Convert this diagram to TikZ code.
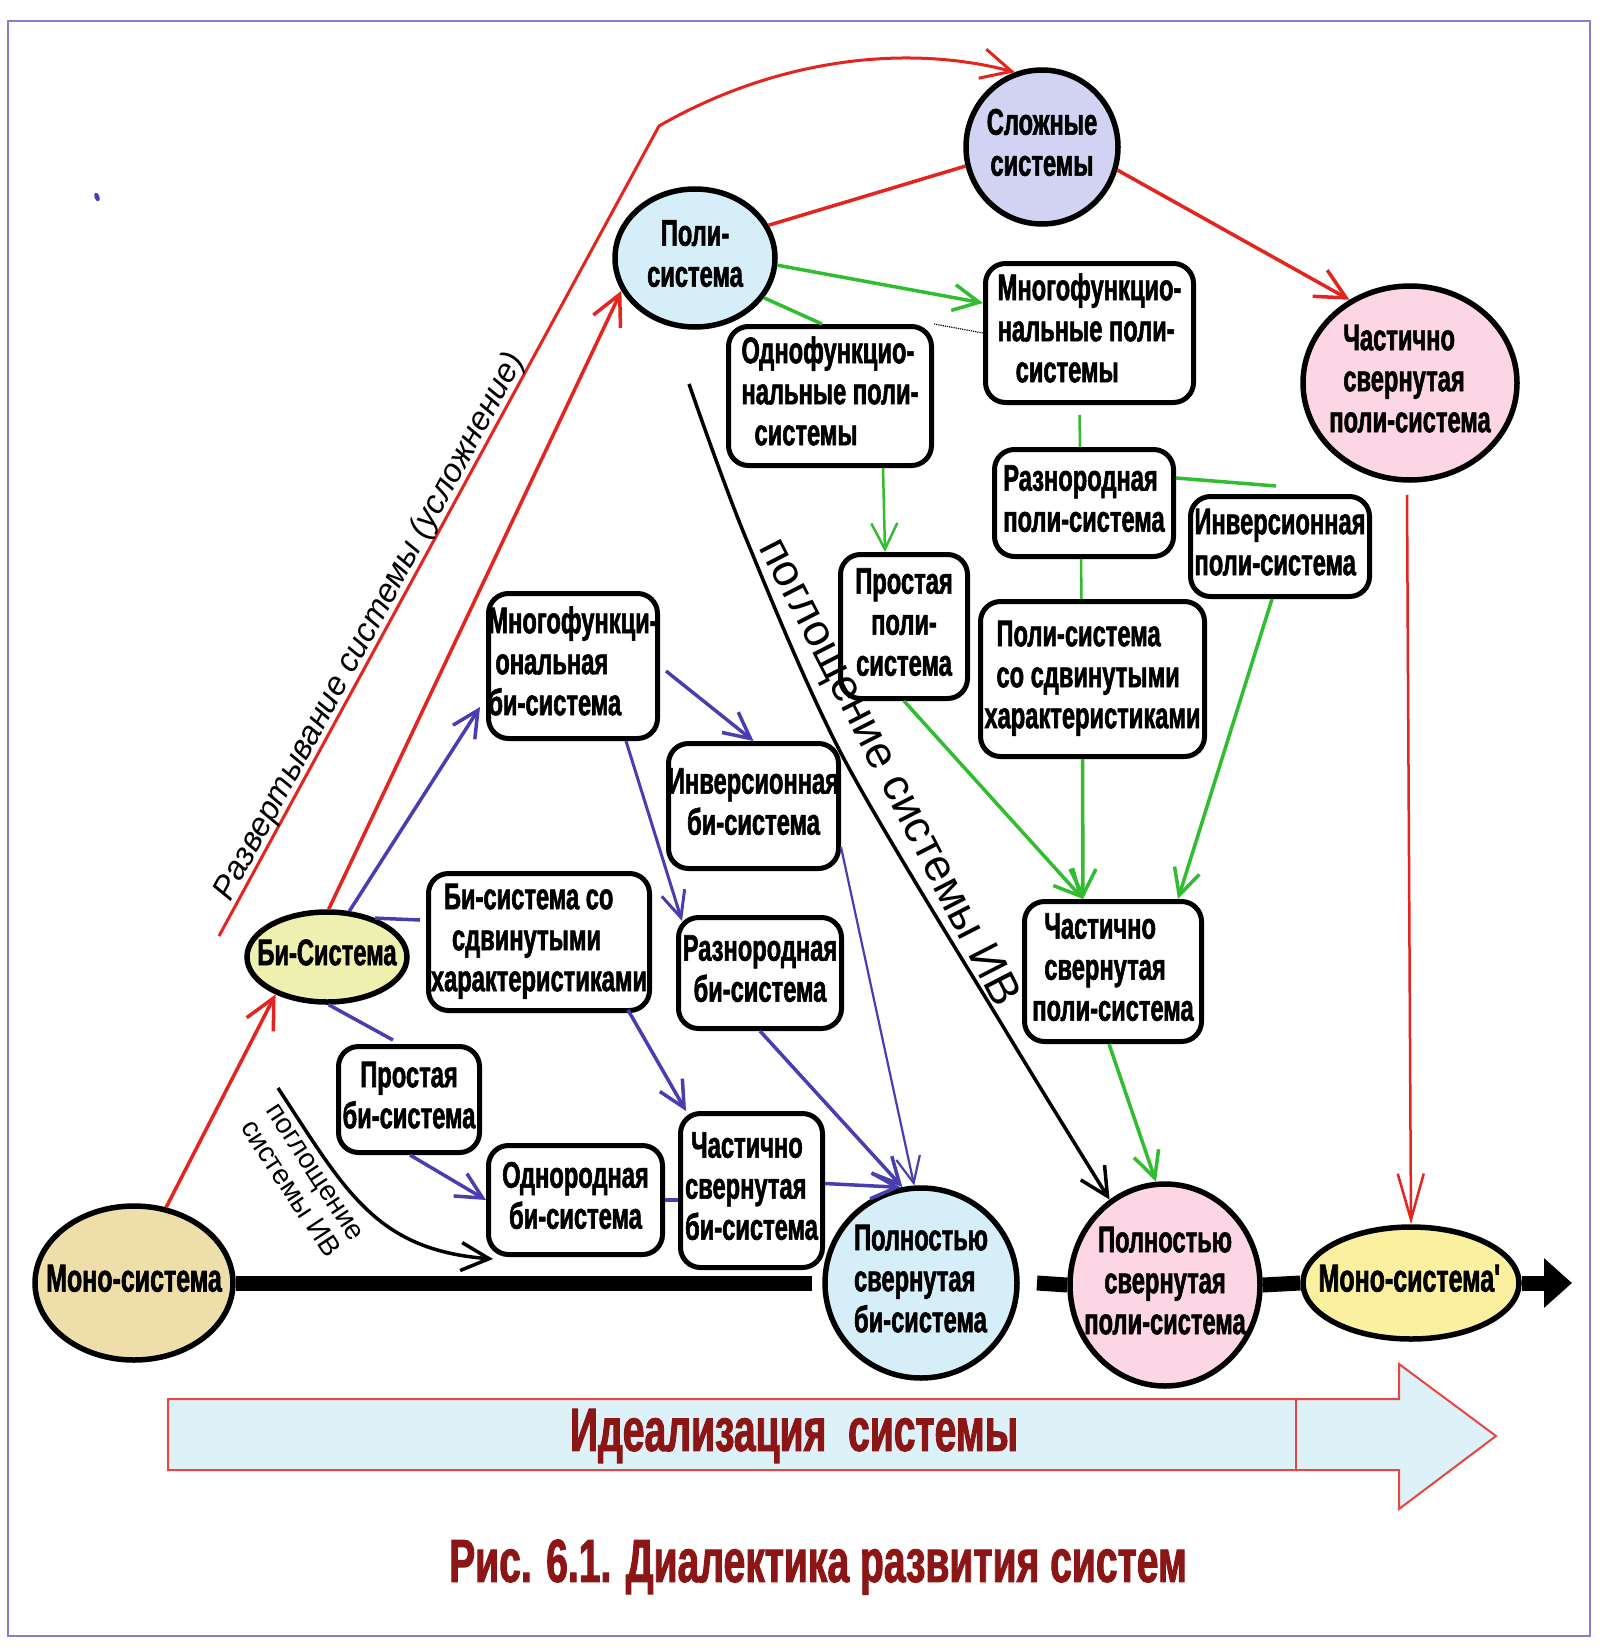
\documentclass[tikz,border=0pt]{standalone}
\usepackage{fontspec}
\newfontfamily\nb{Liberation Sans}[FakeStretch=0.64, BoldFeatures={FakeBold=1.5}]
\newfontfamily\nr{Liberation Sans}
\usetikzlibrary{arrows.meta,calc,shapes.geometric}
\definecolor{rd}{RGB}{228,36,30}
\definecolor{gn}{RGB}{48,190,48}
\definecolor{bl}{RGB}{72,62,178}
\definecolor{frm}{RGB}{130,130,200}
\definecolor{cSl}{RGB}{210,210,242}
\definecolor{cLb}{RGB}{214,238,248}
\definecolor{cPk}{RGB}{252,214,228}
\definecolor{cBi}{RGB}{238,240,176}
\definecolor{cMo}{RGB}{238,222,170}
\definecolor{cMp}{RGB}{250,240,160}
\definecolor{cAr}{RGB}{220,242,248}
\definecolor{dred}{RGB}{140,22,22}
\newcommand\mytxt[2]{\makebox[0pt]{\begin{tabular}{@{}#1@{}}#2\end{tabular}}}
\begin{document}
\begin{tikzpicture}[x=1pt,y=-1pt,
 boxn/.style={draw, fill=white, line width=5pt, rounded corners=20pt, inner sep=0pt, font=\nb\bfseries\fontsize{37}{41}\selectfont},
 elln/.style={draw, ellipse, line width=5.5pt, inner sep=0pt, font=\nb\bfseries\fontsize{37}{41}\selectfont},
 bigf/.style={font=\nb\bfseries\fontsize{39}{43}\selectfont},
 rarr/.style={draw=rd, line width=3.5pt, -{Straight Barb[length=30pt,width=30pt]}},
 rarrt/.style={draw=rd, line width=2.5pt, -{Straight Barb[length=46pt,width=26pt]}},
 rln/.style={draw=rd, line width=3.5pt},
 garr/.style={draw=gn, line width=3.5pt, -{Straight Barb[length=26pt,width=26pt]}},
 gln/.style={draw=gn, line width=3.5pt},
 barr/.style={draw=bl, line width=3.5pt, -{Straight Barb[length=26pt,width=26pt]}},
 barrt/.style={draw=bl, line width=2.2pt, -{Straight Barb[length=26pt,width=24pt]}},
 bln/.style={draw=bl, line width=3.5pt},
 karr/.style={draw=black, line width=3.5pt, -{Straight Barb[length=28pt,width=28pt]}},
 thickln/.style={draw=black, line width=15pt},
]
\useasboundingbox (0,0) rectangle (1600,1651);
\fill[white] (0,0) rectangle (1600,1651);

% ---------- ellipses ----------
\node[elln, fill=cSl, minimum width=152pt, minimum height=154pt] (sl) at (1042,147) {\mytxt{c}{Сложные\\системы}};
\node[elln, fill=cLb, minimum width=160pt, minimum height=138pt] (poli) at (695,258) {\mytxt{c}{Поли-\\система}};
\node[elln, fill=cPk, minimum width=214pt, minimum height=194pt] (chtop) at (1410,383) {\mytxt{l}{\hspace*{14pt}Частично\\\hspace*{14pt}свернутая\\поли-система}};
\node[elln, fill=cBi, minimum width=160pt, minimum height=90pt] (bi) at (327,957) {\mytxt{c}{Би-Система}};
\node[elln, bigf, fill=cMo, minimum width=198pt, minimum height=154pt] (mono) at (134,1283) {\mytxt{c}{Моно-система}};
\node[elln, fill=cLb, minimum width=192pt, minimum height=190pt] (pb) at (921,1283) {\mytxt{l}{Полностью\\свернутая\\би-система}};
\node[elln, fill=cPk, minimum width=190pt, minimum height=202pt] (pp) at (1165,1285) {\mytxt{c}{Полностью\\свернутая\\поли-система}};
\node[elln, bigf, fill=cMp, minimum width=216pt, minimum height=112pt] (mp) at (1411,1283) {\mytxt{c}{Моно-система\textquotesingle}};

% ---------- boxes ----------
\node[boxn, minimum width=208pt, minimum height=139pt] (mnp) at (1089.5,333) {\mytxt{l}{Многофункцио-\\нальные поли-\\\hspace*{18pt}системы}};
\node[boxn, minimum width=203pt, minimum height=139pt] (odno) at (830,396) {\mytxt{l}{Однофункцио-\\нальные поли-\\\hspace*{13pt}системы}};
\node[boxn, minimum width=179pt, minimum height=107pt] (rzp) at (1084,503) {\mytxt{l}{Разнородная\\поли-система}};
\node[boxn, minimum width=179pt, minimum height=100pt] (invp) at (1280,546.5) {\mytxt{l}{Инверсионная\\поли-система}};
\node[boxn, minimum width=127pt, minimum height=144pt] (prp) at (904,626.5) {\mytxt{c}{Простая\\поли-\\система}};
\node[boxn, minimum width=224pt, minimum height=155pt] (pss) at (1092.5,679) {\mytxt{l}{\hspace*{12pt}Поли-система\\\hspace*{12pt}со сдвинутыми\\характеристиками}};
\node[boxn, minimum width=177pt, minimum height=140pt] (chp) at (1113,971.5) {\mytxt{l}{\hspace*{12pt}Частично\\\hspace*{12pt}свернутая\\поли-система}};
\node[boxn, minimum width=169pt, minimum height=145pt] (mbs) at (573,666) {\mytxt{l}{Многофункци-\\\hspace*{7pt}ональная\\би-система}};
\node[boxn, minimum width=170pt, minimum height=125pt] (ibs) at (753.5,806) {\mytxt{c}{Инверсионная\\би-система}};
\node[boxn, minimum width=221pt, minimum height=137pt] (bss) at (539,942) {\mytxt{l}{\hspace*{13pt}Би-система со\\\hspace*{21pt}сдвинутыми\\характеристиками}};
\node[boxn, minimum width=163pt, minimum height=111pt] (rbs) at (760,973) {\mytxt{c}{Разнородная\\би-система}};
\node[boxn, minimum width=141pt, minimum height=106pt] (pbs) at (409,1099.5) {\mytxt{c}{Простая\\би-система}};
\node[boxn, minimum width=174pt, minimum height=109pt] (obs) at (575.5,1200) {\mytxt{c}{Однородная\\би-система}};
\node[boxn, minimum width=142pt, minimum height=154pt] (chb) at (751.5,1190.5) {\mytxt{l}{\hspace*{6pt}Частично\\свернутая\\би-система}};

% ---------- red ----------
\draw[rarr] (mono.67) -- (bi.216);
\draw[rarr] (bi.88) -- (poli.204);
\coordinate (o1) at (219,936);
\coordinate (o2) at (659,126);
\draw[rarr, line width=3pt] (o1) -- (o2) .. controls (770,62) and (900,42) .. (sl.110);
\draw[rln] (poli.24) -- (sl.194);
\draw[rarr] (sl.-17) -- (chtop.126);
\draw[rarrt] ($(chtop.south)+(-3,12)$) -- (mp.north);

% ---------- green ----------
\draw[garr] (poli.-5) -- ($(mnp.west)+(0,-30)$);
\draw[gln] (poli.-30) -- ($(odno.north)+(-8,0)$);
\draw[garr, line width=2.5pt] ($(odno.south)+(53,0)$) -- ($(prp.north)+(-19,0)$);
\draw[gln, line width=2.5pt] ($(mnp.south)+(-10,10)$) -- ($(rzp.north)+(-4,0)$);
\draw[gln] ($(rzp.east)+(0,-25)$) -- ($(invp.north)+(-4,-8)$);
\draw[gln, line width=2.5pt] ($(rzp.south)+(-3,0)$) -- ($(pss.north)+(-11,0)$);
\draw[garr] (prp.south) -- ($(chp.north)+(-30,0)$);
\draw[garr] ($(pss.south)+(-10,0)$) -- ($(chp.north)+(-30,0)$);
\draw[garr] ($(invp.south)+(-8,0)$) -- ($(chp.north)+(65,0)$);
\draw[garr] ($(chp.south)+(-4,0)$) -- (pp.95);
\draw[densely dotted, line width=1.2pt] (odno.north east) -- (mnp.west);

% ---------- blue ----------
\draw[barr] (bi.64) -- ($(mbs.west)+(-6,41)$);
\draw[bln] ($(bss.west)+(-6,-22)$) -- (bi.39);
\draw[bln] (bi.272) -- ($(pbs.north)+(-16,-4)$);
\draw[barr] ($(pbs.south)+(1,0)$) -- (obs.west);
\draw[bln] (obs.east) -- (obs.east -| chb.west);
\draw[barr] ($(mbs.east)+(6,5)$) -- (ibs.north);
\draw[barrt, line width=3pt] ($(mbs.south)+(53,0)$) -- ($(rbs.north west)+(6,6)$);
\draw[barr] ($(bss.south)+(89,-3)$) -- ($(chb.north west)+(8,0)$);
\draw[barr] (rbs.south) -- (pb.101);
\draw[barrt] ($(ibs.east)+(0,41)$) -- (pb.94);
\draw[barr] ($(chb.east)+(0,-7)$) -- (pb.102);

% ---------- black ----------
\coordinate (k0) at (689,384);
\draw[karr] plot[smooth, tension=0.5] coordinates {(k0) (745,536) (843,757) (1007,1033) (pp.123)};
\coordinate (k1) at (278,1088);
\draw[karr] (k1) .. controls (345,1190) and (375,1250) .. ($(obs.south west)+(7,2)$);

\draw[thickln] (mono.east) -- ($(pb.west)+(-10,0)$);
\coordinate (s1) at (1037,1283);
\draw[thickln] (s1) -- (pp.west);
\draw[thickln] (pp.east) -- (mp.west);
\coordinate (tipc) at (1572,1283);
\draw[thickln, -{Triangle[length=28pt,width=48pt]}] (mp.east) -- (tipc);

% ---------- rotated labels ----------
\node[font=\nr\itshape\fontsize{33}{40}\selectfont, rotate=61.5] (razv) at (370,627) {Развертывание системы (усложнение)};
\node[font=\nr\fontsize{45}{50}\selectfont, rotate=-62.8] (pogl) at (887,773) {поглощение системы ИВ};
\node[font=\nr\fontsize{28}{30}\selectfont, rotate=-56.8, align=left] (pogl2) at (302,1181) {поглощение\\системы ИВ};

% ---------- bottom arrow ----------
\draw[draw=rd!85, line width=2pt, fill=cAr] (168,1399) -- (1399,1399) -- (1399,1364) -- (1496,1436) -- (1399,1509) -- (1399,1470) -- (168,1470) -- cycle;
\draw[rd!85, line width=1.5pt] (1296,1399) -- (1296,1470);
\node[font=\nb\bfseries\fontsize{61}{66}\selectfont, text=dred] (ideal) at (794,1436) {Идеализация~ системы};
\node[font=\nb\bfseries\fontsize{61}{66}\selectfont, text=dred] (cap) at (818,1567) {Рис. 6.1. Диалектика развития систем};

% ---------- frame and dot ----------
\draw[frm, line width=2pt] (8,21) rectangle (1590,1636);
\fill[bl, rotate around={20:(97,197)}] (97,197) ellipse (2.5pt and 4.5pt);
\end{tikzpicture}
\end{document}
